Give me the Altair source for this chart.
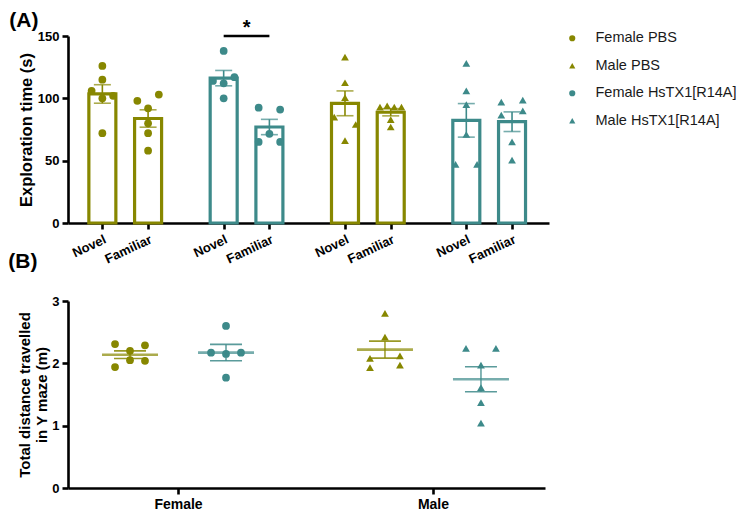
import altair as alt
import pandas as pd

OLIVE = "#878700"
TEAL = "#3d8a8a"
FONT = "Liberation Sans"

# legend order
groups = ["Female PBS", "Male PBS", "Female HsTX1[R14A]", "Male HsTX1[R14A]"]
group_colors = [OLIVE, OLIVE, TEAL, TEAL]
group_shapes = ["circle", "triangle-up", "circle", "triangle-up"]

# panel A order of groups along x
panel_a_order = ["Female PBS", "Female HsTX1[R14A]", "Male PBS", "Male HsTX1[R14A]"]
tests = ["Novel", "Familiar"]

# Panel A: exploration time (s) per animal, and swarm column of each point
a_values = {
    ("Female PBS", "Novel"): [126, 115, 106, 102, 100, 72],
    ("Female PBS", "Familiar"): [103, 98, 92, 80, 72, 58],
    ("Female HsTX1[R14A]", "Novel"): [138, 117, 114, 112, 100],
    ("Female HsTX1[R14A]", "Familiar"): [92.5, 91, 71.5, 65, 65],
    ("Male PBS", "Novel"): [133, 112.5, 100.5, 85, 79, 66],
    ("Male PBS", "Familiar"): [93, 94, 93, 93, 83, 77],
    ("Male HsTX1[R14A]", "Novel"): [128, 106, 95, 71, 47, 47],
    ("Male HsTX1[R14A]", "Familiar"): [97, 98.5, 86.5, 90, 65, 50.5],
}
a_cols = {
    ("Female PBS", "Novel"): [0, 0, -1, 1, 0, 0],
    ("Female PBS", "Familiar"): [1, -1, 0, 0, 0, 0],
    ("Female HsTX1[R14A]", "Novel"): [0, 1, -1, 0, 0],
    ("Female HsTX1[R14A]", "Familiar"): [-1, 1, 0, -1, 1],
    ("Male PBS", "Novel"): [0, 0, 0, -1, 1, 0],
    ("Male PBS", "Familiar"): [-1, -0.33, 0.33, 1, 0, 0],
    ("Male HsTX1[R14A]", "Novel"): [0, 0, 0, 0, -1, 1],
    ("Male HsTX1[R14A]", "Familiar"): [-1, 1, -1, 1, 0, 0],
}
a_ticks = [0, 50, 100, 150]
sig_group = "Female HsTX1[R14A]"
sig_level = 150

# Panel B: total distance travelled (m)
sexes = ["Female", "Male"]
treatments = ["PBS", "HsTX1[R14A]"]
b_values = {
    "Female PBS": [2.31, 2.29, 2.20, 2.05, 2.04, 1.94],
    "Female HsTX1[R14A]": [2.60, 2.17, 2.15, 2.17, 1.77],
    "Male PBS": [2.80, 2.42, 2.08, 2.12, 1.93, 1.97],
    "Male HsTX1[R14A]": [2.24, 2.24, 1.97, 1.61, 1.37, 1.04],
}
b_cols = {
    "Female PBS": [-1, 1, 0, 0, 1, -1],
    "Female HsTX1[R14A]": [0, -1, 0, 1, 0],
    "Male PBS": [0, 0, -1, 1, -1, 1],
    "Male HsTX1[R14A]": [-1, 1, 0, 0, 0, 0],
}
b_ticks = [0, 1, 2, 3]

# ---------- build tables ----------
rows = []
for (g, t), vals in a_values.items():
    for v, c in zip(vals, a_cols[(g, t)]):
        rows.append({"group": g, "test": t, "value": v, "col": c,
                     "gi": panel_a_order.index(g), "ti": tests.index(t)})
dfA = pd.DataFrame(rows)

rowsB = []
for g, vals in b_values.items():
    sex, trt = g.split(" ", 1)
    for v, c in zip(vals, b_cols[g]):
        rowsB.append({"group": g, "value": v, "col": c,
                      "si": sexes.index(sex), "ti": treatments.index(trt)})
dfB = pd.DataFrame(rowsB)

dfSig = pd.DataFrame({"group": [sig_group], "gi": [panel_a_order.index(sig_group)],
                      "y": [sig_level]})

GA = 2.653  # group step (in units of Novel->Familiar distance), panel A
GB = 2.656  # sex step, panel B

cscale = alt.Scale(domain=groups, range=group_colors)
sscale = alt.Scale(domain=groups, range=group_shapes)
is_pbs = "indexof(datum.group, 'PBS') >= 0"
stroke_by_treatment = alt.condition(is_pbs, alt.value(OLIVE), alt.value(TEAL))

legend = alt.Legend(title=None, orient="none", legendX=497, legendY=-5,
                    labelFont=FONT, labelFontSize=14.5, labelColor="#1a1a1a",
                    labelFontWeight="normal",
                    symbolSize=38, rowPadding=12.5, labelOffset=16, padding=0)

a_tick_pos = [round(gi * GA + ti, 4) for gi in range(4) for ti in range(2)]
xA = alt.X("pos:Q", scale=alt.Scale(domain=[-0.642, 9.658], nice=False, zero=False),
           axis=alt.Axis(values=a_tick_pos, title=None, grid=False, labelOverlap=False,
                         labelExpr=f"abs(datum.value - round(datum.value/{GA})*{GA}) < 0.01 ? 'Novel' : 'Familiar'",
                         labelAngle=-25, labelAlign="right", labelBaseline="top",
                         labelFontSize=13, labelFontWeight="bold", labelPadding=4))
yA = alt.Y("value:Q", scale=alt.Scale(domain=[0, 150], nice=False),
           axis=alt.Axis(values=a_ticks, title="Exploration time (s)", grid=False,
                         format="d", titleFontSize=16.5, titlePadding=3, labelOverlap=False))

baseA = alt.Chart(dfA)
aggA = baseA.transform_aggregate(
    mean="mean(value)", sem="stderr(value)", groupby=["group", "gi", "ti"]
).transform_calculate(
    pos=f"datum.gi*{GA} + datum.ti",
    lo="datum.mean - datum.sem", hi="datum.mean + datum.sem")

bars = aggA.mark_bar(fill="white", strokeWidth=3.2, width=27, orient="vertical").encode(
    x=xA, y=alt.Y("mean:Q", scale=alt.Scale(domain=[0, 150], nice=False)),
    stroke=stroke_by_treatment)
err_rule = aggA.mark_rule(strokeWidth=1.6).encode(
    x="pos:Q", y="lo:Q", y2="hi:Q", stroke=stroke_by_treatment)
err_caps = aggA.transform_fold(["lo", "hi"], as_=["which", "v"]).mark_tick(
    orient="horizontal", size=17, thickness=1.6).encode(
    x="pos:Q", y="v:Q", fill=stroke_by_treatment)
ptsA = baseA.transform_calculate(
    pos=f"datum.gi*{GA} + datum.ti + datum.col*0.235"
).mark_point(filled=True, size=60, opacity=1).encode(
    x=xA, y=yA,
    color=alt.Color("group:N", scale=cscale, legend=legend),
    shape=alt.Shape("group:N", scale=sscale, legend=legend))
sig_rule = alt.Chart(dfSig).transform_calculate(
    x1=f"datum.gi*{GA}", x2=f"datum.gi*{GA} + 1"
).mark_rule(strokeWidth=2.5, color="black").encode(x="x1:Q", x2="x2:Q", y="y:Q")
sig_text = alt.Chart(dfSig).transform_calculate(
    xm=f"datum.gi*{GA} + 0.5"
).mark_text(text="*", fontSize=20, fontWeight="bold", font=FONT, dy=-8, baseline="middle").encode(
    x="xm:Q", y="y:Q")

panelA = alt.layer(bars, err_rule, err_caps, ptsA, sig_rule, sig_text).properties(
    width=481, height=187,
    title=alt.TitleParams("(A)", anchor="start", frame="bounds", fontSize=21,
                          fontWeight="bold", font=FONT, offset=-13, dx=-9))

# ---------- panel B ----------
b_tick_pos = [round(si * GB + 0.5, 4) for si in range(2)]
xB = alt.X("pos:Q", scale=alt.Scale(domain=[-0.646, 4.323], nice=False, zero=False),
           axis=alt.Axis(values=b_tick_pos, title=None, grid=False, labelOverlap=False,
                         labelExpr="datum.value < 2 ? 'Female' : 'Male'",
                         labelAngle=0, labelFontSize=14, labelFontWeight="bold", labelPadding=3))
yB = alt.Y("value:Q", scale=alt.Scale(domain=[0, 3], nice=False),
           axis=alt.Axis(values=b_ticks, title=["Total distance travelled", "in Y maze (m)"],
                         grid=False, format="d", titleFontSize=15, titleLineHeight=17,
                         titlePadding=2.5, labelOverlap=False))

baseB = alt.Chart(dfB)
aggB = baseB.transform_aggregate(
    mean="mean(value)", sem="stderr(value)", groupby=["group", "si", "ti"]
).transform_calculate(
    pos=f"datum.si*{GB} + datum.ti",
    lo="datum.mean - datum.sem", hi="datum.mean + datum.sem")

mean_line = aggB.mark_tick(orient="horizontal", size=56, thickness=2.6).encode(
    x=xB, y=alt.Y("mean:Q", scale=alt.Scale(domain=[0, 3], nice=False)),
    fill=stroke_by_treatment)
b_rule = aggB.mark_rule(strokeWidth=1.5, opacity=0.85).encode(
    x="pos:Q", y="lo:Q", y2="hi:Q", stroke=stroke_by_treatment)
b_caps = aggB.transform_fold(["lo", "hi"], as_=["which", "v"]).mark_tick(
    orient="horizontal", size=32, thickness=1.6, opacity=0.85).encode(
    x="pos:Q", y="v:Q", fill=stroke_by_treatment)
ptsB = baseB.transform_calculate(
    pos=f"datum.si*{GB} + datum.ti + datum.col*0.156"
).mark_point(filled=True, size=60, opacity=1).encode(
    x=xB, y=yB,
    color=alt.Color("group:N", scale=cscale, legend=None),
    shape=alt.Shape("group:N", scale=sscale, legend=None))

panelB = alt.layer(ptsB, mean_line, b_rule, b_caps).properties(
    width=477, height=187,
    title=alt.TitleParams("(B)", anchor="start", frame="bounds", fontSize=21,
                          fontWeight="bold", font=FONT, offset=23, dx=-9))

chart = alt.vconcat(panelA, panelB, spacing=-15).resolve_scale(
    color="independent", shape="independent"
).properties(
    padding={"left": 0, "top": 2, "right": 0, "bottom": 0}
).configure_view(stroke=None).configure_axis(
    domainColor="black", domainWidth=2.6, tickColor="black", tickWidth=2.6, tickSize=6,
    labelFont=FONT, labelColor="black", labelFontSize=13, labelFontWeight="bold",
    titleFont=FONT, titleColor="black", titleFontSize=14, titleFontWeight="bold",
    titlePadding=5
).configure_axisY(labelPadding=3)

chart.save("out.html", embed_options={"renderer": "svg", "actions": False})
